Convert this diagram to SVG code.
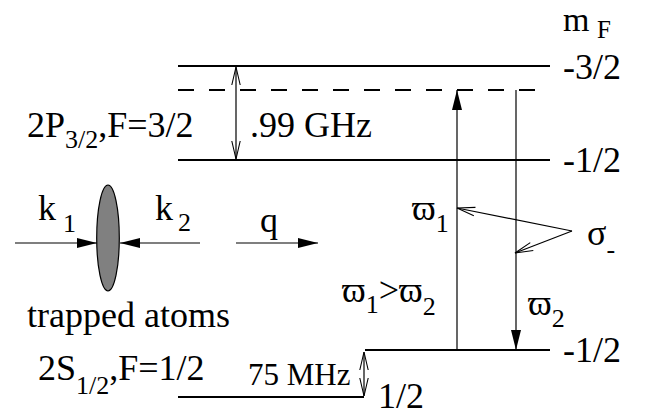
<svg xmlns="http://www.w3.org/2000/svg" width="654" height="418" viewBox="0 0 654 418">
<style>
.t{font-family:'Liberation Serif','Times New Roman',serif;font-size:36px;fill:#000}
.sub{font-size:26px}
.lvl{stroke:#000;stroke-width:2;fill:none}
.arr{stroke:#000;stroke-width:1.2;fill:none}
</style>
<defs>
<marker id="fa" viewBox="0 0 20 10" refX="20" refY="5" markerWidth="20" markerHeight="10" markerUnits="userSpaceOnUse" orient="auto"><path d="M0,0 L20,5 L0,10 z" fill="#000"/></marker>
<marker id="oa" viewBox="-1 -1 20 12" refX="18" refY="5" markerWidth="20" markerHeight="12" markerUnits="userSpaceOnUse" orient="auto-start-reverse"><path d="M0,0.8 L18,5 L0,9.2" fill="none" stroke="#000" stroke-width="1.1"/></marker>
</defs>
<g id="levels">
<line class="lvl" x1="178" y1="66" x2="550" y2="66"/>
<line class="lvl" x1="178" y1="90" x2="535" y2="90" stroke-dasharray="16 15"/>
<line class="lvl" x1="178" y1="160" x2="550" y2="160"/>
<line class="lvl" x1="365" y1="350" x2="550" y2="350"/>
<line class="lvl" x1="178" y1="397" x2="364" y2="397"/>
</g>
<g id="atoms">
<ellipse cx="108" cy="238" rx="11.3" ry="53" fill="#808080" stroke="#000" stroke-width="1.2"/>
</g>
<g id="connectors">
<line class="arr" x1="236" y1="67" x2="236" y2="159" marker-start="url(#oa)" marker-end="url(#oa)"/>
<line class="arr" x1="364" y1="352" x2="364" y2="396" marker-start="url(#oa)" marker-end="url(#oa)"/>
<line class="arr" x1="457" y1="350" x2="457" y2="90" marker-end="url(#fa)"/>
<line class="arr" x1="516" y1="90" x2="516" y2="350" marker-end="url(#fa)"/>
<line class="arr" x1="572" y1="231" x2="457" y2="208" marker-end="url(#oa)"/>
<line class="arr" x1="572" y1="231" x2="515" y2="253" marker-end="url(#oa)"/>
<line class="arr" x1="15" y1="243" x2="97" y2="243" marker-end="url(#fa)"/>
<line class="arr" x1="200" y1="243" x2="120" y2="243" marker-end="url(#fa)"/>
<line class="arr" x1="236" y1="243" x2="318" y2="243" marker-end="url(#fa)"/>
</g>
<g id="labels">
<text class="t" x="563" y="31" style="font-size:34px">m<tspan class="sub" x="597" y="38" style="font-size:25px">F</tspan></text>
<text class="t" x="563" y="79">-3/2</text>
<text class="t" x="563" y="172">-1/2</text>
<text class="t" x="563" y="362">-1/2</text>
<text class="t" x="378" y="408">1/2</text>
<text class="t" x="27" y="137">2P<tspan class="sub" dy="11">3/2</tspan><tspan dy="-11">,F=3/2</tspan></text>
<text class="t" x="250" y="137">.99 GHz</text>
<text class="t" x="38" y="220">k<tspan class="sub" x="63" y="232">1</tspan></text>
<text class="t" x="155" y="220">k<tspan class="sub" x="178" y="231">2</tspan></text>
<text class="t" x="260" y="232">q</text>
<text class="t" x="27" y="327">trapped atoms</text>
<text class="t" x="38" y="380">2S<tspan class="sub" dy="14">1/2</tspan><tspan dy="-14">,F=1/2</tspan></text>
<text class="t" x="248" y="385" style="font-size:31px">75 MHz</text>
<text class="t" x="412" y="220">ϖ<tspan class="sub" y="232">1</tspan></text>
<text class="t" x="342" y="302">ϖ<tspan class="sub" y="313">1</tspan><tspan y="302">&gt;ϖ</tspan><tspan class="sub" y="315">2</tspan></text>
<text class="t" x="528" y="315">ϖ<tspan class="sub" y="327">2</tspan></text>
<text class="t" x="587" y="245">σ<tspan class="sub" y="258">-</tspan></text>
</g>
</svg>
